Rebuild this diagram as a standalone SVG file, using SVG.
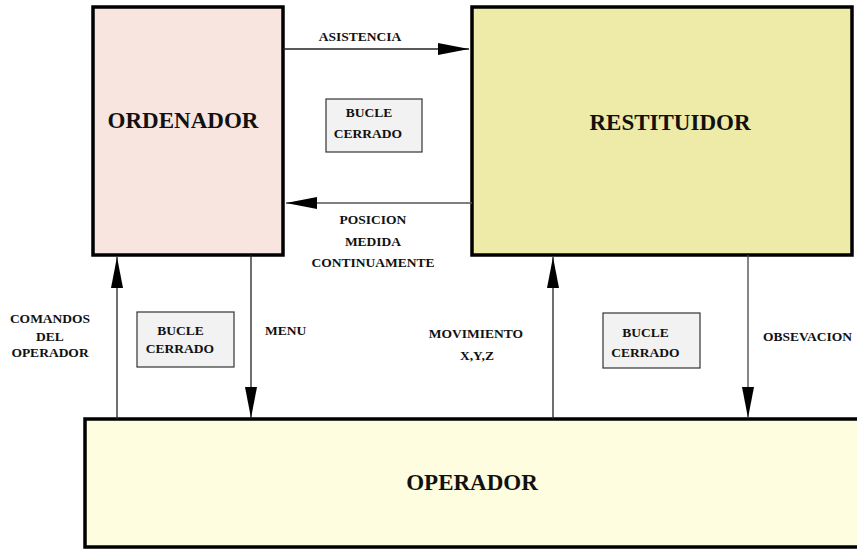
<svg xmlns="http://www.w3.org/2000/svg" width="857" height="549" viewBox="0 0 857 549">
<style>
.big{font-family:"Liberation Serif","Times New Roman",serif;font-weight:bold;font-size:23px;fill:#111;text-anchor:middle}
.lbl{font-family:"Liberation Serif","Times New Roman",serif;font-weight:bold;font-size:13.5px;fill:#111;text-anchor:middle}
.main{stroke:#000;stroke-width:3.5}
.loop{fill:#f2f2f2;stroke:#333;stroke-width:1.2}
.conn{stroke:#222;stroke-width:1.3;fill:none;marker-end:url(#ah)}
</style>
<defs>
<marker id="ah" markerUnits="userSpaceOnUse" markerWidth="32" markerHeight="12" refX="31" refY="6" orient="auto">
<path d="M0,0 L31,6 L0,12 Z" fill="#000"/>
</marker>
</defs>
<rect width="857" height="549" fill="#fff"/>
<g id="ordenador">
<rect class="main" x="93" y="7" width="190" height="248" fill="#f9e5df"/>
<text class="big" x="183" y="128">ORDENADOR</text>
</g>
<g id="restituidor">
<rect class="main" x="472" y="7" width="380" height="248" fill="#eeeaa8"/>
<text class="big" x="670" y="130">RESTITUIDOR</text>
</g>
<g id="operador">
<rect class="main" x="85" y="419" width="780" height="128" fill="#fefddf"/>
<text class="big" x="472" y="490">OPERADOR</text>
</g>
<g id="bucle1">
<rect class="loop" x="326" y="99" width="96" height="53"/>
<text class="lbl" x="369" y="117">BUCLE</text>
<text class="lbl" x="368" y="138">CERRADO</text>
</g>
<g id="bucle2">
<rect class="loop" x="137" y="312" width="97" height="55"/>
<text class="lbl" x="180.5" y="335">BUCLE</text>
<text class="lbl" x="180" y="353">CERRADO</text>
</g>
<g id="bucle3">
<rect class="loop" x="603" y="313" width="97" height="55"/>
<text class="lbl" x="645.5" y="337">BUCLE</text>
<text class="lbl" x="645.5" y="357">CERRADO</text>
</g>
<g id="connectors">
<line class="conn" x1="283" y1="49" x2="469" y2="49"/>
<line class="conn" x1="472" y1="203" x2="286" y2="203" style="stroke:#555"/>
<line class="conn" x1="117" y1="419" x2="117" y2="257"/>
<line class="conn" x1="251" y1="255" x2="251" y2="418"/>
<line class="conn" x1="553" y1="419" x2="553" y2="257"/>
<line class="conn" x1="748" y1="255" x2="748" y2="418" style="stroke:#444"/>
</g>
<g id="labels">
<text class="lbl" x="360" y="41">ASISTENCIA</text>
<text class="lbl" x="373" y="224">POSICION</text>
<text class="lbl" x="373" y="245.5">MEDIDA</text>
<text class="lbl" x="373" y="266.5">CONTINUAMENTE</text>
<text class="lbl" x="50" y="323">COMANDOS</text>
<text class="lbl" x="50" y="341">DEL</text>
<text class="lbl" x="50" y="357">OPERADOR</text>
<text class="lbl" x="265" y="335" style="text-anchor:start">MENU</text>
<text class="lbl" x="476" y="338">MOVIMIENTO</text>
<text class="lbl" x="477" y="360">X,Y,Z</text>
<text class="lbl" x="763" y="341" style="text-anchor:start">OBSEVACION</text>
</g>
</svg>
